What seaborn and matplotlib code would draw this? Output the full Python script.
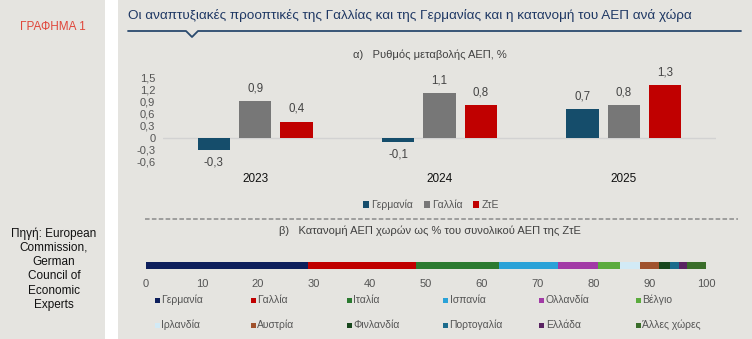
import matplotlib
matplotlib.use("Agg")
import matplotlib.pyplot as plt
from matplotlib.patches import Rectangle
from matplotlib.lines import Line2D
import seaborn as sns
import pandas as pd

# ---------------- data ----------------
years = ["2023", "2024", "2025"]
growth_germany = [-0.3, -0.1, 0.7]
growth_france = [0.9, 1.1, 0.8]
growth_eu = [0.4, 0.8, 1.3]
growth_series = ["Γερμανία", "Γαλλία", "ΖτΕ"]
ytick_values = [-0.6, -0.3, 0, 0.3, 0.6, 0.9, 1.2, 1.5]

share_countries = ["Γερμανία", "Γαλλία", "Ιταλία", "Ισπανία", "Ολλανδία", "Βέλγιο",
                   "Ιρλανδία", "Αυστρία", "Φινλανδία", "Πορτογαλία", "Ελλάδα", "Άλλες χώρες"]
share_values = [28.9, 19.4, 14.7, 10.5, 7.2, 4.0, 3.5, 3.4, 1.9, 1.7, 1.4, 3.4]
share_ticks = [0, 10, 20, 30, 40, 50, 60, 70, 80, 90, 100]

title = "Οι αναπτυξιακές προοπτικές της Γαλλίας και της Γερμανίας και η κατανομή του ΑΕΠ ανά χώρα"
label_left = "ΓΡΑΦΗΜΑ 1"
source_text = "Πηγή: European\nCommission,\nGerman\nCouncil of\nEconomic\nExperts"
sub_a = "α)   Ρυθμός μεταβολής ΑΕΠ, %"
sub_b = "β)   Κατανομή ΑΕΠ χωρών ως % του συνολικού ΑΕΠ της ΖτΕ"

# ---------------- style ----------------
growth_colors = ["#154d6b", "#777777", "#c00000"]
share_colors = ["#0d1f5c", "#c00000", "#2b7a30", "#2aa2d8", "#a23aa6", "#5bab3d",
                "#d2eaf6", "#a0522d", "#18461d", "#1b6b8c", "#5a2462", "#3a6d2a"]
BG = "#e5e4e0"

sns.set_style("white")
plt.rcParams["font.family"] = ["Liberation Sans", "DejaVu Sans"]

W, H = 752, 339
fig = plt.figure(figsize=(W / 100, H / 100), dpi=100, facecolor="white")


def fx(px):
    return px / W


def fy(py):
    return 1 - py / H


# panels
fig.patches.append(Rectangle((0, 0), fx(105), 1, transform=fig.transFigure,
                             facecolor=BG, edgecolor="none", zorder=-5))
fig.patches.append(Rectangle((fx(118), 0), 1 - fx(118), 1, transform=fig.transFigure,
                             facecolor=BG, edgecolor="none", zorder=-5))

# left panel text
fig.text(fx(53), fy(27), label_left, color="#e0463a", fontsize=8.5,
         ha="center", va="center")
fig.text(fx(54), fy(269), source_text, color="#111111", fontsize=8.5,
         ha="center", va="center", linespacing=1.25)

# title
fig.text(fx(128), fy(15), title, color="#1f3864", fontsize=9.7, ha="left", va="center")
xs = [128, 186, 192, 198, 741]
ys = [31, 31, 37, 31, 31]
fig.lines.append(Line2D([fx(v) for v in xs], [fy(v) for v in ys], transform=fig.transFigure,
                        color="#2a4a6e", lw=1.3))

# sub titles
fig.text(fx(430), fy(55), sub_a, color="#404040", fontsize=8, ha="center", va="center")
fig.text(fx(430), fy(231), sub_b, color="#404040", fontsize=8, ha="center", va="center")

# ---------------- bar chart ----------------
rows = []
for series, vals in zip(growth_series, [growth_germany, growth_france, growth_eu]):
    for y, v in zip(years, vals):
        rows.append({"year": y, "series": series, "value": v})
df = pd.DataFrame(rows)

ax1 = fig.add_axes([fx(163), fy(161.7), fx(716) - fx(163), fy(77.3) - fy(161.7)])
ax1.set_facecolor("none")
sns.barplot(data=df, x="year", y="value", hue="series", hue_order=growth_series,
            palette=growth_colors, width=0.672, gap=0.22, saturation=1,
            linewidth=0, legend=False, ax=ax1, zorder=3)
ax1.set_xlim(-0.5, 2.5)
ax1.set_ylim(-0.6, 1.5)
ax1.axhline(0, color="#d2d2d2", lw=1, zorder=1)
ax1.set_yticks(ytick_values)
ax1.set_yticklabels([f"{v:g}".replace(".", ",") for v in ytick_values])
ax1.tick_params(axis="y", length=0, pad=5.5, labelsize=8, labelcolor="#555555")
ax1.tick_params(axis="x", length=0, pad=8, labelsize=8.5, labelcolor="#111111")
ax1.set_xlabel("")
ax1.set_ylabel("")
for s in ax1.spines.values():
    s.set_visible(False)
for cont in ax1.containers:
    ax1.bar_label(cont, labels=[f"{b.get_height():.1f}".replace(".", ",") for b in cont],
                  padding=5, fontsize=8.3, color="#444444")

handles = [Rectangle((0, 0), 1, 1, facecolor=c, edgecolor="none") for c in growth_colors]
fig.legend(handles, growth_series, loc="center", bbox_to_anchor=(fx(431), fy(205)),
           ncol=3, frameon=False, fontsize=7.5, labelcolor="#555555",
           handlelength=0.55, handleheight=0.55, handletextpad=0.25, columnspacing=1.0)

# dashed separator
fig.lines.append(Line2D([fx(145), fx(738)], [fy(219), fy(219)], transform=fig.transFigure,
                        color="#8a8a8a", lw=1.1, linestyle=(0, (3, 1.5))))

# ---------------- stacked share bar ----------------
ax2 = fig.add_axes([fx(146), fy(269), fx(706) - fx(146), fy(262) - fy(269)])
ax2.set_facecolor("none")
left = 0
for name, val, col in zip(share_countries, share_values, share_colors):
    ax2.barh([0], [val], left=left, height=1, color=col, edgecolor="none")
    left += val
ax2.set_xlim(0, 100)
ax2.set_ylim(-0.5, 0.5)
ax2.set_yticks([])
ax2.set_xticks(share_ticks)
ax2.tick_params(axis="x", length=0, pad=7.5, labelsize=8, labelcolor="#555555")
for s in ax2.spines.values():
    s.set_visible(False)

# legend for shares (2 rows x 6 columns)
for i, (name, col) in enumerate(zip(share_countries, share_colors)):
    r, c = divmod(i, 6)
    x0 = 157 + c * 96.2
    y0 = 300 + r * 25
    fig.patches.append(Rectangle((fx(x0 - 2.5), fy(y0 + 2.5)), 5 / W, 5 / H,
                                 transform=fig.transFigure, facecolor=col, edgecolor="none"))
    fig.text(fx(x0 + 4), fy(y0), name, color="#555555", fontsize=7.5, ha="left", va="center")

fig.savefig("out.png", dpi=100, facecolor=fig.get_facecolor())
